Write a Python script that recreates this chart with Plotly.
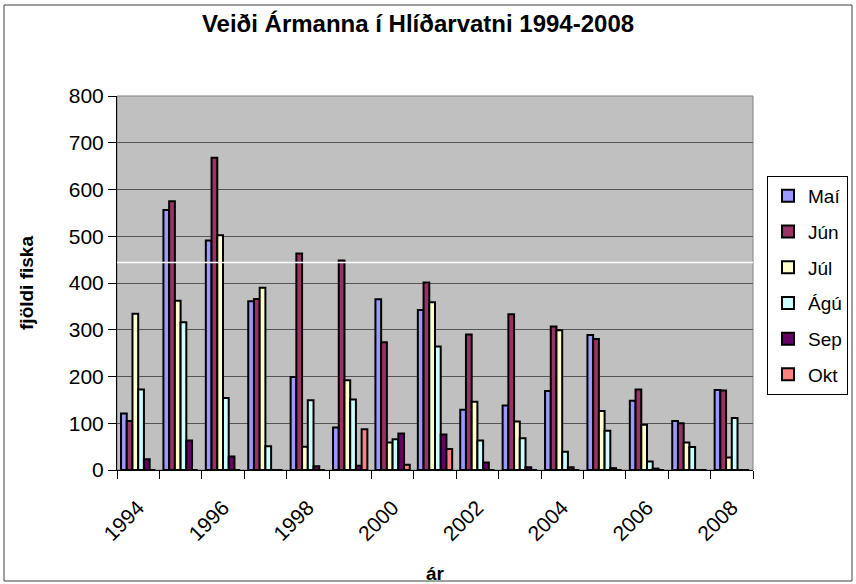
import plotly.graph_objects as go

years = [str(y) for y in range(1994, 2009)]
tick_text = [y if int(y) % 2 == 0 else "" for y in years]
series_names = ["Maí", "Jún", "Júl", "Ágú", "Sep", "Okt"]

mai = [121, 556, 491, 361, 199, 91, 365, 342, 129, 138, 169, 289, 148, 105, 171]
jun = [105, 575, 668, 366, 463, 448, 273, 401, 290, 333, 307, 280, 172, 100, 170]
jul = [334, 362, 502, 390, 50, 192, 59, 359, 146, 104, 299, 126, 97, 59, 27]
agu = [172, 316, 154, 51, 149, 151, 66, 264, 63, 68, 39, 84, 18, 49, 111]
sep = [23, 63, 29, 0, 8, 9, 78, 76, 16, 6, 6, 4, 3, 0, 0]
okt = [0, 0, 0, 0, 0, 87, 11, 45, 0, 0, 0, 0, 0, 0, 0]
white_line_value = 444

values = [mai, jun, jul, agu, sep, okt]
colors = ["#9999FF", "#993366", "#FFFFCC", "#CCFFFF", "#660066", "#FF8080"]

W, H = 856, 584
L, R, T, B = 117, 753, 96, 470
PW, PH = R - L, B - T

def px(p):
    return (p - L) / PW

def py(p):
    return (B - p) / PH

FONT = "Liberation Sans, Arial, sans-serif"

fig = go.Figure()
for name, vals, col in zip(series_names, values, colors):
    fig.add_trace(go.Bar(
        x=years, y=vals, name=name, legendgroup=name,
        marker=dict(color=col, line=dict(color="black", width=2)),
    ))

fig.update_layout(
    width=W, height=H,
    margin=dict(l=L, r=W - R, t=T, b=H - B, pad=0, autoexpand=False),
    paper_bgcolor="white",
    plot_bgcolor="#C0C0C0",
    barmode="group",
    bargap=0.19,
    bargroupgap=0,
    font=dict(family=FONT, color="black", size=21),
    title=dict(
        text="<b>Veiði Ármanna í Hlíðarvatni 1994-2008</b>",
        x=px(418), xanchor="center", xref="paper",
        y=1 - 24 / H, yanchor="middle",
        font=dict(family=FONT, size=24, color="black"),
    ),
    legend=dict(
        x=px(767), y=py(176), xanchor="left", yanchor="top",
        bgcolor="white", bordercolor="black", borderwidth=1,
        font=dict(family=FONT, size=19, color="black"),
        tracegroupgap=8,
        itemwidth=30,
    ),
    xaxis=dict(
        type="category",
        tickmode="array", tickvals=years, ticktext=tick_text,
        tickangle=-45,
        tickson="boundaries",
        ticks="outside", ticklen=8, tickcolor="black",
        ticklabelstandoff=16,
        showline=True, linecolor="black", linewidth=1,
        showgrid=False,
        tickfont=dict(size=21),
        title=dict(text="<b>ár</b>", font=dict(size=19), standoff=22),
    ),
    yaxis=dict(
        range=[0, 800], dtick=100,
        ticks="outside", ticklen=8, tickcolor="black",
        showline=True, linecolor="black", linewidth=1,
        showgrid=True, gridcolor="#555555", gridwidth=1,
        zeroline=False,
        tickfont=dict(size=21),
        title=dict(text="<b>fjöldi fiska</b>", font=dict(size=19), standoff=30),
    ),
    shapes=[
        dict(type="line", xref="paper", yref="y", x0=0, x1=1,
             y0=white_line_value, y1=white_line_value,
             line=dict(color="white", width=1.5), layer="above"),
        dict(type="rect", xref="paper", yref="paper", x0=0, x1=1, y0=0, y1=1,
             line=dict(color="#808080", width=1), layer="below"),
        dict(type="rect", xref="paper", yref="paper",
             x0=px(4), x1=px(852), y0=py(581), y1=py(5),
             line=dict(color="#404040", width=1)),
    ],
)

fig.write_html("out.html", config={"displayModeBar": False},
               post_script="document.body.style.margin='0';")
